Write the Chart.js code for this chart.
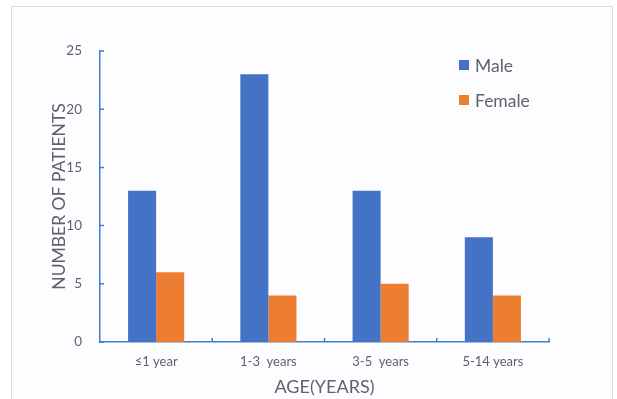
<!DOCTYPE html>
<html>
<head>
<meta charset="utf-8">
<script src="https://cdn.jsdelivr.net/npm/chart.js@4.4.1/dist/chart.umd.min.js"></script>
<style>
  html, body { margin: 0; padding: 0; background: #ffffff; }
  #wrap { position: relative; width: 617px; height: 399px; overflow: hidden; }
  #frame {
    position: absolute; left: 11px; top: 6px; width: 602px; height: 420px;
    border: 1px solid #d7dce3; background: #fdfdff; box-sizing: border-box;
  }
  canvas { position: absolute; left: 0; top: 0; }
</style>
</head>
<body>
<div id="wrap">
  <div id="frame"></div>
  <canvas id="chart" width="617" height="399"></canvas>
</div>
<script>
// Patient counts by age group
const categories = ['\u22641 year', '1-3  years', '3-5  years', '5-14 years'];
const maleCounts = [13, 23, 13, 9];
const femaleCounts = [6, 4, 5, 4];
const yTicks = [0, 5, 10, 15, 20, 25];

const FONT = 'Lato, "Open Sans", sans-serif';
const TEXT = '#5c636b';
const AXIS = '#3f7fcf';

// Short inward tick marks on both axes, plus the stacked legend on the right
const decorations = {
  id: 'decorations',
  afterDraw(chart) {
    const ctx = chart.ctx;
    const x = chart.scales.x, y = chart.scales.y;
    const area = chart.chartArea;
    const step = x.getPixelForValue(1) - x.getPixelForValue(0);
    ctx.save();
    ctx.strokeStyle = AXIS;
    ctx.lineWidth = 1.5;
    ctx.beginPath();
    yTicks.forEach(v => {
      const py = y.getPixelForValue(v);
      ctx.moveTo(area.left, py);
      ctx.lineTo(area.left + 4, py);
    });
    for (let i = 0; i < categories.length; i++) {
      const px = x.getPixelForValue(i) + step / 2;
      ctx.moveTo(px, area.bottom);
      ctx.lineTo(px, area.bottom - 4);
    }
    ctx.stroke();

    // legend
    ctx.font = '17.5px ' + FONT;
    ctx.textBaseline = 'middle';
    ctx.textAlign = 'left';
    const rows = [65, 100];
    chart.data.datasets.forEach((ds, i) => {
      const cy = rows[i];
      ctx.fillStyle = ds.backgroundColor;
      ctx.fillRect(459, cy - 5, 10, 10);
      ctx.fillStyle = TEXT;
      ctx.fillText(ds.label, 475, cy + 1);
    });
    ctx.restore();
  }
};

new Chart(document.getElementById('chart'), {
  type: 'bar',
  data: {
    labels: categories,
    datasets: [
      { label: 'Male', data: maleCounts, backgroundColor: '#4472c4' },
      { label: 'Female', data: femaleCounts, backgroundColor: '#ed7d31' }
    ]
  },
  options: {
    responsive: false,
    animation: false,
    devicePixelRatio: 1,
    categoryPercentage: 0.5,
    barPercentage: 1.0,
    layout: { padding: { top: 51, right: 68, left: 0, bottom: 0 } },
    plugins: { legend: { display: false }, tooltip: { enabled: false } },
    scales: {
      x: {
        grid: { display: false, drawTicks: false },
        border: { display: true, color: AXIS, width: 1.5 },
        ticks: { color: TEXT, font: { family: FONT, size: 13 }, padding: 12, maxRotation: 0 },
        title: { display: true, text: 'AGE(YEARS)', color: TEXT, font: { family: FONT, size: 18 }, padding: { top: 0, bottom: 1 } },
        afterFit(scale) { scale.height = 57; }
      },
      y: {
        min: 0, max: 25,
        grid: { display: false, drawTicks: false },
        border: { display: true, color: AXIS, width: 1.5 },
        ticks: { stepSize: 5, color: TEXT, font: { family: FONT, size: 13.5 }, padding: 18 },
        title: { display: true, text: 'NUMBER OF PATIENTS', color: TEXT, font: { family: FONT, size: 17.5 }, padding: { top: 49, bottom: 0 } },
        afterFit(scale) { scale.width = 100; }
      }
    }
  },
  plugins: [decorations]
});
</script>
</body>
</html>
